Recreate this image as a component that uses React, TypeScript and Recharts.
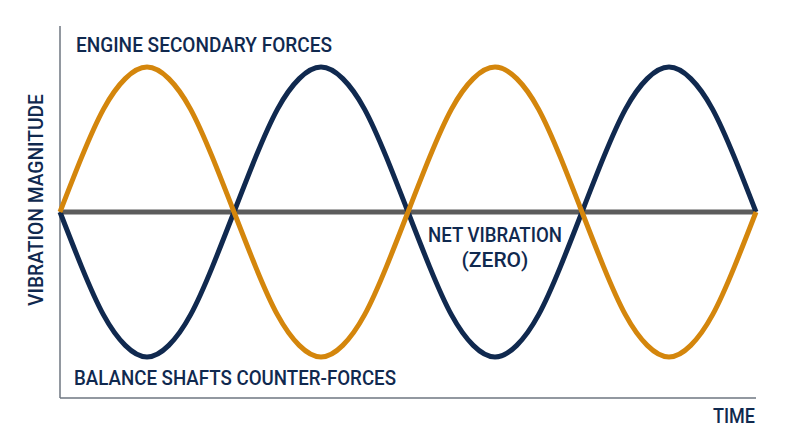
import { LineChart, Line, XAxis, YAxis, ReferenceLine } from "recharts";

// time steps (16 per cycle, 2 cycles)
const timeSteps = [
  0, 1, 2, 3, 4, 5, 6, 7, 8, 9, 10, 11, 12, 13, 14, 15, 16,
  17, 18, 19, 20, 21, 22, 23, 24, 25, 26, 27, 28, 29, 30, 31, 32,
];

const engineForces = [
  0, 0.38, 0.71, 0.92, 1, 0.92, 0.71, 0.38, 0, -0.38, -0.71, -0.92, -1, -0.92, -0.71, -0.38,
  0, 0.38, 0.71, 0.92, 1, 0.92, 0.71, 0.38, 0, -0.38, -0.71, -0.92, -1, -0.92, -0.71, -0.38, 0,
];

const balanceForces = [
  0, -0.38, -0.71, -0.92, -1, -0.92, -0.71, -0.38, 0, 0.38, 0.71, 0.92, 1, 0.92, 0.71, 0.38,
  0, -0.38, -0.71, -0.92, -1, -0.92, -0.71, -0.38, 0, 0.38, 0.71, 0.92, 1, 0.92, 0.71, 0.38, 0,
];

const netVibration = [
  0, 0, 0, 0, 0, 0, 0, 0, 0, 0, 0, 0, 0, 0, 0, 0,
  0, 0, 0, 0, 0, 0, 0, 0, 0, 0, 0, 0, 0, 0, 0, 0, 0,
];

const Y_LIMIT = 1.283;

const data = timeSteps.map((t, i) => ({
  t,
  engine: engineForces[i],
  balance: balanceForces[i],
  net: netVibration[i],
}));

const NAVY = "#10294f";
const ORANGE = "#d4860c";
const GREY = "#5c5c5c";
const AXIS = "#6e7681";
const FONT = "Roboto, 'DejaVu Sans', sans-serif";

const textStyle = {
  fontFamily: FONT,
  fontSize: 21,
  fill: NAVY,
  fontWeight: 500,
};

export default function App() {
  return (
    <div style={{ position: "absolute", left: 0, top: 0, width: 800, height: 447, background: "#fff" }}>
      <LineChart
        width={800}
        height={447}
        data={data}
        margin={{ top: 26, right: 44, bottom: 49, left: 60 }}
      >
        <XAxis dataKey="t" type="number" domain={[0, 32]} hide />
        <YAxis domain={[-Y_LIMIT, Y_LIMIT]} hide />
        <ReferenceLine x={0} stroke={AXIS} strokeWidth={1.5} />
        <ReferenceLine y={-Y_LIMIT} stroke={AXIS} strokeWidth={1.5} />
        <Line
          dataKey="net"
          stroke={GREY}
          strokeWidth={5}
          dot={false}
          type="linear"
          isAnimationActive={false}
        />
        <Line
          dataKey="balance"
          stroke={NAVY}
          strokeWidth={5}
          dot={false}
          type="natural"
          isAnimationActive={false}
        />
        <Line
          dataKey="engine"
          stroke={ORANGE}
          strokeWidth={5}
          dot={false}
          type="natural"
          isAnimationActive={false}
        />
        <text x={76} y={52} textLength={256} lengthAdjust="spacingAndGlyphs" style={textStyle}>
          ENGINE SECONDARY FORCES
        </text>
        <text x={74} y={385} textLength={322} lengthAdjust="spacingAndGlyphs" style={textStyle}>
          BALANCE SHAFTS COUNTER-FORCES
        </text>
        <text x={428} y={242} textLength={134} lengthAdjust="spacingAndGlyphs" style={textStyle}>
          NET VIBRATION
        </text>
        <text x={495} y={267} textAnchor="middle" style={textStyle}>(ZERO)</text>
        <text x={713} y={423} textLength={42} lengthAdjust="spacingAndGlyphs" style={{ ...textStyle, fontSize: 20 }}>
          TIME
        </text>
        <text
          x={43}
          y={306}
          textLength={212}
          lengthAdjust="spacingAndGlyphs"
          transform="rotate(-90, 43, 306)"
          style={textStyle}
        >
          VIBRATION MAGNITUDE
        </text>
      </LineChart>
    </div>
  );
}
